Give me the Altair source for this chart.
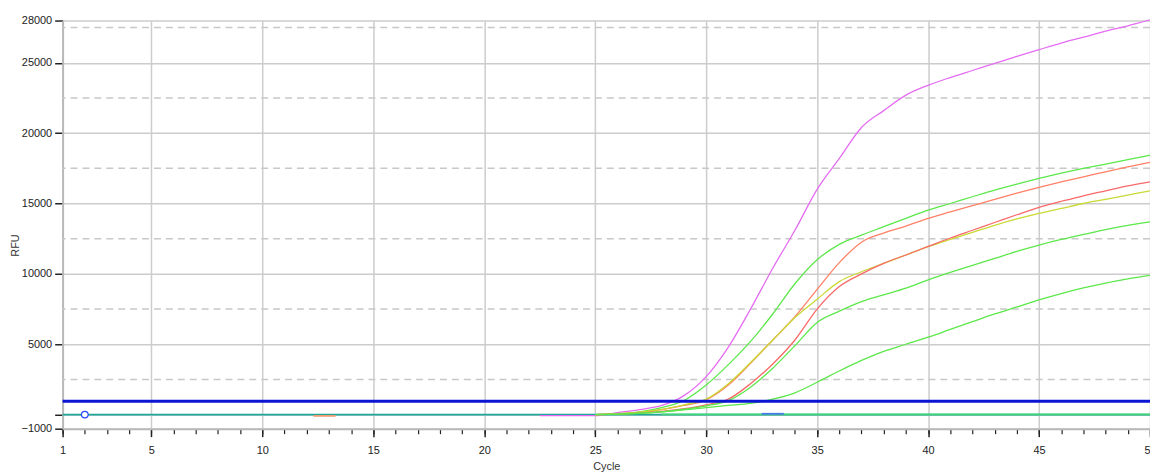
import altair as alt
import pandas as pd

# ---------------- data ----------------
CYCLES = list(range(25, 51))
MAG_CYCLES = [22.5, 23, 24] + CYCLES

MAGENTA = [-70, -70, -70, -70, 140, 350, 650, 1350, 2700, 4800, 7500, 10400, 13100, 16000, 18200,
           20400, 21600, 22700, 23400, 23950, 24450, 24950, 25450, 25930, 26400, 26820, 27250, 27630, 28050]
GREEN_1 = [0, 60, 200, 500, 1000, 2100, 3550, 5200, 7150, 9300, 11000, 12100, 12750, 13350, 13950,
           14530, 15000, 15480, 15950, 16380, 16780, 17150, 17490, 17800, 18120, 18430]
SALMON = [0, 50, 150, 350, 650, 1050, 2100, 3650, 5300, 6950, 8900, 10800, 12250, 12900, 13400,
          13950, 14400, 14850, 15300, 15730, 16140, 16530, 16900, 17250, 17600, 17920]
YELLOW = [0, 60, 170, 380, 700, 1100, 2200, 3700, 5300, 6900, 8200, 9450, 10150, 10750, 11340,
          11930, 12450, 12950, 13450, 13900, 14300, 14650, 15000, 15300, 15600, 15900]
RED_2 = [0, 30, 100, 220, 420, 700, 1100, 2200, 3600, 5300, 7500, 9100, 10000, 10750, 11340,
         11950, 12550, 13100, 13650, 14200, 14730, 15150, 15550, 15900, 16250, 16540]
GREEN_2 = [0, 30, 90, 200, 380, 620, 1000, 1950, 3300, 4900, 6550, 7350, 8030, 8510, 8980,
           9570, 10100, 10600, 11100, 11600, 12050, 12450, 12800, 13150, 13450, 13700]
GREEN_3 = [0, 30, 100, 200, 330, 500, 650, 800, 1100, 1550, 2300, 3100, 3850, 4500, 5000,
           5500, 6050, 6600, 7150, 7650, 8150, 8600, 9000, 9350, 9650, 9900]

SERIES_NAMES = ["magenta", "green1", "salmon", "yellow", "red2", "green2", "green3"]
SERIES_COLORS = ["#E56CF2", "#5CE84A", "#FF8066", "#C9D934", "#F86A6A", "#5CE84A", "#5CE84A"]

# flat (non-amplified) traces near baseline
FLAT_NAMES = ["teal", "greenflat", "blueseg", "orangeseg"]
FLAT_START = [1, 28, 32.5, 12.3]
FLAT_END = [50, 50, 33.5, 13.3]
FLAT_LEVEL = [0, 20, 60, -90]
FLAT_COLORS = ["#1FA89A", "#3FD67A", "#4A78E8", "#F29A70"]

THRESHOLD = 950
MARKER_CYCLE = [2]
MARKER_VALUE = [0]

Y_TICKS = [-1000, 0, 5000, 10000, 15000, 20000, 25000, 28000]
Y_DASHED = [2500, 7500, 12500, 17500, 22500, 27500]
X_MAJOR = [1, 5, 10, 15, 20, 25, 30, 35, 40, 45, 50]
X_MINOR = list(range(1, 51))

# ---------------- tables ----------------
rows = []
series_values = [MAGENTA, GREEN_1, SALMON, YELLOW, RED_2, GREEN_2, GREEN_3]
for name, vals in zip(SERIES_NAMES, series_values):
    cyc = MAG_CYCLES if name == "magenta" else CYCLES
    for c, v in zip(cyc, vals):
        rows.append({"series": name, "cycle": c, "rfu": v})
curves = pd.DataFrame(rows)

flat_rows = []
for n, s, e, l in zip(FLAT_NAMES, FLAT_START, FLAT_END, FLAT_LEVEL):
    flat_rows.append({"series": n, "cycle": s, "rfu": l})
    flat_rows.append({"series": n, "cycle": e, "rfu": l})
flat = pd.DataFrame(flat_rows)

dashed = pd.DataFrame({"rfu": Y_DASHED})
thr = pd.DataFrame({"rfu": [THRESHOLD]})
marker = pd.DataFrame({"cycle": MARKER_CYCLE, "rfu": MARKER_VALUE})

FONT = "Liberation Sans"
xscale = alt.Scale(domain=[1, 50], nice=False, zero=False)
yscale = alt.Scale(domain=[-1000, 28000], nice=False, zero=False)

y_axis = alt.Axis(
    values=Y_TICKS, format="d",
    labelExpr="datum.value == 0 ? '' : datum.label",
    title="RFU", titleAngle=-90, titleX=-47, titleY=226,
    titleAlign="center", titleBaseline="middle",
    titleFont=FONT, titleFontSize=11, titleFontWeight="normal", titleColor="#333333",
    labelFont=FONT, labelFontSize=11, labelColor="#222222", labelPadding=3,
    tickSize=8, tickColor="#222222", tickWidth=1.5,
    domainColor="#B8B8B8", domainWidth=2,
    grid=True, gridColor="#CCCCCC", gridWidth=1.5,
)

x_axis_major = alt.Axis(
    values=X_MAJOR, orient="bottom", format="d",
    title="Cycle", titleFont=FONT, titleFontSize=11, titleFontWeight="normal",
    titleColor="#333333", titleBaseline="middle", titleY=38,
    labelFont=FONT, labelFontSize=11, labelColor="#222222", labelPadding=8,
    tickSize=8, tickColor="#222222", tickWidth=1.5,
    domainColor="#B8B8B8", domainWidth=2,
    grid=True, gridColor="#CCCCCC", gridWidth=1.5,
    labelOverlap=False, labelFlush=False,
)
x_axis_minor = alt.Axis(
    values=X_MINOR, orient="bottom", labels=False, title=None,
    tickSize=5, tickColor="#222222", tickWidth=1.2, domain=False, grid=False,
)

dash_layer = alt.Chart(dashed).mark_rule(
    color="#C8C8C8", strokeDash=[7, 5], strokeWidth=1.5
).encode(y=alt.Y("rfu:Q", scale=yscale, axis=y_axis))

flat_layer = alt.Chart(flat).mark_line(strokeWidth=1.8).encode(
    x=alt.X("cycle:Q", scale=xscale, axis=x_axis_minor),
    y=alt.Y("rfu:Q", scale=yscale, axis=y_axis),
    color=alt.Color("series:N", scale=alt.Scale(domain=FLAT_NAMES, range=FLAT_COLORS), legend=None),
    detail="series:N",
)

curve_layer = alt.Chart(curves).mark_line(strokeWidth=1.3, interpolate="monotone").encode(
    x=alt.X("cycle:Q", scale=xscale, axis=x_axis_major),
    y=alt.Y("rfu:Q", scale=yscale, axis=y_axis),
    stroke=alt.Stroke("series:N", scale=alt.Scale(domain=SERIES_NAMES, range=SERIES_COLORS), legend=None),
    detail="series:N",
)

thr_layer = alt.Chart(thr).mark_rule(color="#0A14D2", strokeWidth=3.2).encode(
    y=alt.Y("rfu:Q", scale=yscale, axis=y_axis)
)

marker_layer = alt.Chart(marker).mark_point(
    shape="circle", size=45, filled=True, fill="white", stroke="#2646FF", strokeWidth=1.2, opacity=1
).encode(
    x=alt.X("cycle:Q", scale=xscale, axis=None),
    y=alt.Y("rfu:Q", scale=yscale, axis=y_axis),
)

chart = alt.layer(
    dash_layer, flat_layer, curve_layer, thr_layer, marker_layer
).resolve_axis(x="independent").resolve_scale(color="independent").properties(
    width=1095, height=411,
    autosize=alt.AutoSizeParams(type="none"),
    padding={"left": 55, "top": 11, "right": 0, "bottom": 44},
    background="white",
).configure_view(stroke=None)

chart.save("out.html", embed_options={"renderer": "svg", "actions": False})
